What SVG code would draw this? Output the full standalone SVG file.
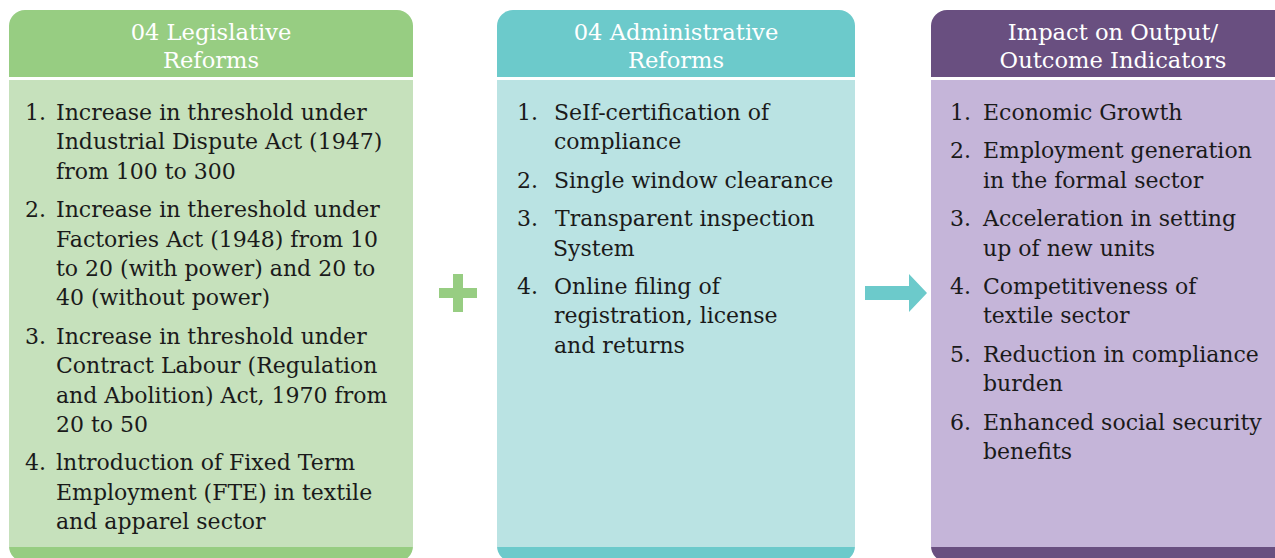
<svg xmlns="http://www.w3.org/2000/svg" width="1275" height="558" viewBox="0 0 1275 558">
  <style>
    .hd { font-family: "DejaVu Serif", "Liberation Serif", serif; font-size: 22.6px; fill: #ffffff; text-anchor: middle; }
    .tx { font-family: "DejaVu Serif", "Liberation Serif", serif; font-size: 22px; fill: #1a1a1a; }
    .sep { fill: #ffffff; }
  </style>
  <rect width="1275" height="558" fill="#ffffff"/>

  <!-- Column 1: legislative reforms -->
  <g id="legislative">
    <rect x="9" y="10" width="404" height="552" rx="16" fill="#97cd82"/>
    <rect x="9" y="77" width="404" height="3" class="sep"/>
    <rect x="9" y="80" width="404" height="467" fill="#c6e1bc"/>
    <text class="hd" x="211" y="40">04 Legislative</text>
    <text class="hd" x="211" y="68">Reforms</text>
    <g class="tx">
      <text x="25" y="120">1.</text>
      <text x="56" y="120">Increase in threshold under</text>
      <text x="56" y="149.4">Industrial Dispute Act (1947)</text>
      <text x="56" y="178.8">from 100 to 300</text>
      <text x="25" y="217.2">2.</text>
      <text x="56" y="217.2">Increase in thereshold under</text>
      <text x="56" y="246.6">Factories Act (1948) from 10</text>
      <text x="56" y="276">to 20 (with power) and 20 to</text>
      <text x="56" y="305.4">40 (without power)</text>
      <text x="25" y="343.8">3.</text>
      <text x="56" y="343.8">Increase in threshold under</text>
      <text x="56" y="373.2">Contract Labour (Regulation</text>
      <text x="56" y="402.6">and Abolition) Act, 1970 from</text>
      <text x="56" y="432">20 to 50</text>
      <text x="25" y="470.4">4.</text>
      <text x="56" y="470.4">lntroduction of Fixed Term</text>
      <text x="56" y="499.8">Employment (FTE) in textile</text>
      <text x="56" y="529.2">and apparel sector</text>
    </g>
  </g>

  <!-- Column 2: administrative reforms -->
  <g id="administrative">
    <rect x="497" y="10" width="358" height="552" rx="16" fill="#6ccacb"/>
    <rect x="497" y="77" width="358" height="3" class="sep"/>
    <rect x="497" y="80" width="358" height="467" fill="#bae3e3"/>
    <text class="hd" x="676" y="40">04 Administrative</text>
    <text class="hd" x="676" y="68">Reforms</text>
    <g class="tx">
      <text x="517" y="120">1.</text>
      <text x="554" y="120">SeIf-certification of</text>
      <text x="554" y="149.4">compliance</text>
      <text x="517" y="187.8">2.</text>
      <text x="554" y="187.8">Single window clearance</text>
      <text x="517" y="226.2">3.</text>
      <text x="555" y="226.2">Transparent inspection</text>
      <text x="553" y="255.6">System</text>
      <text x="517" y="294">4.</text>
      <text x="554" y="294">Online filing of</text>
      <text x="554" y="323.4">registration, license</text>
      <text x="554" y="352.8">and returns</text>
    </g>
  </g>

  <!-- Column 3: impact on indicators -->
  <g id="impact">
    <rect x="931" y="10" width="380" height="552" rx="16" fill="#694f80"/>
    <rect x="931" y="77" width="380" height="3" class="sep"/>
    <rect x="931" y="80" width="380" height="467" fill="#c5b5d9"/>
    <text class="hd" x="1113" y="40">Impact on Output/</text>
    <text class="hd" x="1113" y="68">Outcome Indicators</text>
    <g class="tx">
      <text x="950" y="120">1.</text>
      <text x="983" y="120">Economic Growth</text>
      <text x="950" y="158.4">2.</text>
      <text x="983" y="158.4">Employment generation</text>
      <text x="983" y="187.8">in the formal sector</text>
      <text x="950" y="226.2">3.</text>
      <text x="983" y="226.2">Acceleration in setting</text>
      <text x="983" y="255.6">up of new units</text>
      <text x="950" y="294">4.</text>
      <text x="983" y="294">Competitiveness of</text>
      <text x="983" y="323.4">textile sector</text>
      <text x="950" y="361.8">5.</text>
      <text x="983" y="361.8">Reduction in compliance</text>
      <text x="983" y="391.2">burden</text>
      <text x="950" y="429.6">6.</text>
      <text x="983" y="429.6">Enhanced social security</text>
      <text x="983" y="459">benefits</text>
    </g>
  </g>

  <!-- Connectors: plus sign and arrow between columns -->
  <g id="connectors">
    <path d="M453 274 H463 V288 H477 V298 H463 V312 H453 V298 H439 V288 H453 Z" fill="#97cd82"/>
    <path d="M865 286 H909 V274 L927 293 L909 312 V300 H865 Z" fill="#6ccacb"/>
  </g>
</svg>
